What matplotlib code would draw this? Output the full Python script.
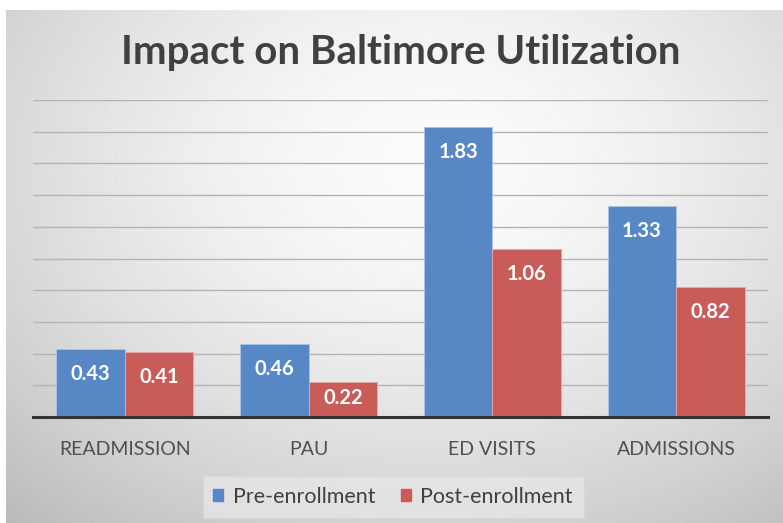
import numpy as np
import matplotlib.pyplot as plt
from matplotlib.patches import Patch

# values
categories = ["READMISSION", "PAU", "ED VISITS", "ADMISSIONS"]
pre_enrollment = [0.43, 0.46, 1.83, 1.33]
post_enrollment = [0.41, 0.22, 1.06, 0.82]

blue = "#5787C4"
red = "#C95B58"
plt.rcParams['font.family'] = ['Lato', 'DejaVu Sans']

fig = plt.figure(figsize=(7.83, 5.23), dpi=100)
fig.patch.set_facecolor("white")

# radial gray gradient background like the office chart style
bg = fig.add_axes([6 / 783, 0, 1 - 6 / 783, 1 - 10 / 523], zorder=-2)
yy, xx = np.mgrid[0:1:300j, 0:1:450j]
r = np.sqrt(((xx - 0.55) / 0.75) ** 2 + ((yy - 0.3) / 0.85) ** 2)
shade = 0.985 - 0.22 * np.clip(r, 0, 1.2) ** 1.6
bg.imshow(shade, cmap="gray", vmin=0, vmax=1, aspect="auto", extent=[0, 1, 1, 0])
bg.axis("off")

ax = fig.add_axes([33 / 783, 106 / 523, 735 / 783, 317 / 523])
ax.patch.set_alpha(0)

x = np.arange(len(categories))
w = 0.373
b1 = ax.bar(x - w / 2, pre_enrollment, w, color=blue, edgecolor="#a9c4e6", linewidth=0.6, label="Pre-enrollment", zorder=3)
b2 = ax.bar(x + w / 2, post_enrollment, w, color=red, edgecolor="#e8a9a7", linewidth=0.6, label="Post-enrollment", zorder=3)

for bars in (b1, b2):
    for bar in bars:
        v = bar.get_height()
        ypos = max(v - 0.158, v / 2 + 0.01)
        ax.text(bar.get_x() + bar.get_width() / 2, ypos, f"{v:.2f}", ha="center", va="center",
                color="white", fontsize=14.5, fontweight="bold", zorder=4)

ax.set_xlim(-0.5, len(categories) - 0.5)
ax.set_ylim(0, 2.0)
ax.set_yticks(np.arange(0, 2.01, 0.2))
ax.yaxis.grid(True, color="#b4b4b4", linewidth=1)
ax.set_axisbelow(True)
ax.tick_params(axis="y", left=False, labelleft=False)
ax.tick_params(axis="x", length=0, pad=17, labelsize=14, labelcolor="#505050")
ax.set_xticks(x)
ax.set_xticklabels(categories)
for s in ["top", "right", "left"]:
    ax.spines[s].set_visible(False)
ax.spines["bottom"].set_color("#333333")
ax.spines["bottom"].set_linewidth(2.2)
ax.spines["bottom"].set_zorder(5)

fig.text(0.512, 0.9, "Impact on Baltimore Utilization", ha="center", va="center",
         fontsize=29, fontweight="bold", color="#404040")

handles = [Patch(color=blue, label="Pre-enrollment"), Patch(color=red, label="Post-enrollment")]
leg = fig.legend(handles=handles, loc="center", bbox_to_anchor=(0.502, 0.05), ncol=2,
                 frameon=True, fontsize=15.5, handlelength=0.45, handleheight=0.45,
                 handletextpad=0.45, columnspacing=1.2, borderpad=0.5, fancybox=False)
leg.get_frame().set_facecolor("#e6e6e6")
leg.get_frame().set_edgecolor("#d8d8d8")
leg.get_frame().set_alpha(0.8)
for t in leg.get_texts():
    t.set_color("#404040")

fig.savefig("out.png", dpi=100)
